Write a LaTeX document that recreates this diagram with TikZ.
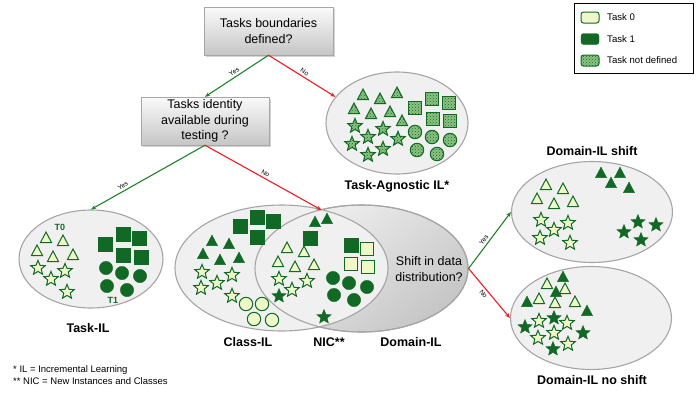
\documentclass[tikz,border=0pt]{standalone}
\usepackage{fontspec}
\setmainfont{Liberation Sans}
\usetikzlibrary{arrows.meta,shapes.geometric,shadows,patterns}
\definecolor{dkg}{RGB}{18,105,38}
\definecolor{lty}{RGB}{238,248,200}
\definecolor{mdg}{RGB}{140,195,130}
\definecolor{argreen}{RGB}{30,130,40}
\definecolor{arred}{RGB}{235,28,36}
\definecolor{ellfill}{RGB}{240,240,240}
\definecolor{elldraw}{RGB}{165,165,165}
\newcommand\Tri[3]{\path[#3,shift={(#1,#2)}] (0,-6) -- (5.6,4.6) -- (-5.6,4.6) -- cycle;}
\newcommand\Sqr[3]{\path[#3,shift={(#1,#2)}] (-6.7,-6.7) rectangle (6.7,6.7);}
\newcommand\Cir[3]{\path[#3] (#1,#2) circle[radius=6.7];}
\newcommand\Sta[3]{\path[#3,shift={(#1,#2)}] (270:7.6) -- (306:3.4) -- (342:7.6) -- (18:3.4) -- (54:7.6) -- (90:3.4) -- (126:7.6) -- (162:3.4) -- (198:7.6) -- (234:3.4) -- cycle;}
\tikzset{
  qbox/.style={draw=gray!70, top color=gray!4, bottom color=gray!45, minimum width=129pt, minimum height=48pt, align=center, inner sep=1pt, drop shadow={shadow xshift=1.5pt, shadow yshift=-1.5pt, opacity=0.35}},
  ell/.style={ellipse, draw=elldraw, line width=1.1pt, fill=ellfill, inner sep=0pt},
  ya/.style={draw=argreen, line width=1.1pt, -{Stealth[length=5pt,width=4pt]}},
  na/.style={draw=arred, line width=1.1pt, -{Stealth[length=5pt,width=4pt]}},
  elab/.style={font=\fontsize{6.5}{7}\selectfont, sloped, inner sep=2pt},
  lbl/.style={font=\bfseries\fontsize{12.5}{14}\selectfont},
  t0s/.style={draw=dkg, fill=lty, line width=1pt},
  t1s/.style={draw=dkg, fill=dkg, line width=0.3pt},
  tus/.style={draw=dkg, line width=1pt, preaction={fill=mdg}, pattern=crosshatch dots, pattern color=dkg}
}
\begin{document}
\begin{tikzpicture}[x=1pt,y=-1pt, font=\fontsize{12.5}{15.5}\selectfont]
\useasboundingbox (0,0) rectangle (699,394);
% question boxes
\node[qbox] (q1) at (268.5,31) {Tasks boundaries\\defined?};
\node[qbox, minimum width=128pt] (q2) at (205,121) {Tasks identity\\available during\\testing ?};
% ellipses
\node[ell, minimum width=142pt, minimum height=102pt] (ta) at (397,123) {};
\node[ell, minimum width=144pt, minimum height=98pt] (til) at (91,259) {};
\node[ellipse, inner sep=0pt, draw=elldraw, line width=1.1pt, minimum width=213pt, minimum height=127pt, top color=gray!10, bottom color=gray!45, shading angle=40] (dil) at (361.5,268.5) {};
\node[ell, minimum width=213pt, minimum height=126pt] (cil) at (281.5,268) {};
\node[ellipse, inner sep=0pt, draw=elldraw, line width=1.1pt, minimum width=213pt, minimum height=127pt] (dilo) at (361.5,268.5) {};
\node[ell, minimum width=161pt, minimum height=101pt] (sh) at (592,212) {};
\node[ell, minimum width=161pt, minimum height=103pt] (ns) at (591,318) {};
\coordinate (nictop) at (321.5,210);
% arrows
\draw[ya] (q1.south) -- node[elab, above]{Yes} (q2.north);
\draw[na] (q1.south) -- node[elab, above]{No} (ta.157);
\draw[ya] (q2.south) -- node[elab, above, pos=0.7]{Yes} (til.north);
\draw[na] (q2.south) -- node[elab, above]{No} (nictop);
\draw[ya] (dil.east) -- node[elab, above, pos=0.45]{Yes} (sh.west);
\draw[na] (dil.east) -- node[elab, below, pos=0.45]{No} (ns.west);
% Task-agnostic shapes
\foreach \x/\y in {363/95, 380/99, 397/93, 354/109, 371/114, 390/112, 402/121} \Tri{\x}{\y}{tus};
\foreach \x/\y in {355/126, 368/137, 383/129, 398/139, 352/144, 368/155, 383/149} \Sta{\x}{\y}{tus};
\foreach \x/\y in {415/108, 432/99, 449/103, 433/119, 450/121} \Sqr{\x}{\y}{tus};
\foreach \x/\y in {415/132, 432/137, 450/140, 417/150, 437/154} \Cir{\x}{\y}{tus};
% Task-IL shapes
\node[font=\bfseries\fontsize{9}{10}\selectfont, text=dkg] (t0l) at (60,227) {T0};
\node[font=\bfseries\fontsize{9}{10}\selectfont, text=dkg] (t1l) at (113,300) {T1};
\foreach \x/\y in {46/238, 63/241, 37/251, 53/257, 73/255} \Tri{\x}{\y}{t0s};
\foreach \x/\y in {38/268, 65/271, 51/279, 67/292} \Sta{\x}{\y}{t0s};
\foreach \x/\y in {105/244, 123/234, 139/238, 123/255, 141/257} \Sqr{\x}{\y}{t1s};
\foreach \x/\y in {106/268, 122/273, 140/276, 107/286, 127/290} \Cir{\x}{\y}{t1s};
% Class-IL shapes
\foreach \x/\y in {240/226, 257/217, 273/221, 257/237} \Sqr{\x}{\y}{t1s};
\foreach \x/\y in {212/241, 229/244, 203/254, 220/260, 239/258} \Tri{\x}{\y}{t1s};
\foreach \x/\y in {202/272, 217/283, 232/275, 201/288, 232/296} \Sta{\x}{\y}{t0s};
\foreach \x/\y in {246/304, 262/304, 254/319, 272/320} \Cir{\x}{\y}{t0s};
% NIC shapes
\foreach \x/\y in {315/222, 327/219} \Tri{\x}{\y}{t1s};
\Sqr{310}{238}{t1s}
\foreach \x/\y in {287/248, 304/252, 278/262, 295/267, 314/265} \Tri{\x}{\y}{t0s};
\foreach \x/\y in {279/279, 292/290, 307/281} \Sta{\x}{\y}{t0s};
\foreach \x/\y in {279/296, 324/317} \Sta{\x}{\y}{t1s};
\Sqr{351}{245}{t1s}
\foreach \x/\y in {367/249, 351/264, 368/267} \Sqr{\x}{\y}{t0s};
\foreach \x/\y in {333/278, 349/283, 367/287, 334/295, 354/300} \Cir{\x}{\y}{t1s};
% Domain-IL shift
\foreach \x/\y in {601/173, 620/173, 611/183, 629/188} \Tri{\x}{\y}{t1s};
\foreach \x/\y in {546/185, 563/189, 537/199, 554/204, 573/202} \Tri{\x}{\y}{t0s};
\foreach \x/\y in {541/220, 554/230, 568/223, 540/238, 570/243} \Sta{\x}{\y}{t0s};
\foreach \x/\y in {638/222, 656/225, 624/232, 641/240} \Sta{\x}{\y}{t1s};
% Domain-IL no shift
\foreach \x/\y in {563/277, 556/292, 527/302, 587/311} \Tri{\x}{\y}{t1s};
\foreach \x/\y in {547/284, 565/289, 539/299, 555/303, 575/302} \Tri{\x}{\y}{t0s};
\foreach \x/\y in {554/318, 525/327, 583/333, 553/349} \Sta{\x}{\y}{t1s};
\foreach \x/\y in {539/321, 567/323, 538/338, 554/333, 568/344} \Sta{\x}{\y}{t0s};
% labels
\node[align=center] (shq) at (429,269) {Shift in data\\distribution?};
\node[lbl] (lta) at (397,186) {Task-Agnostic IL*};
\node[lbl] (ltil) at (88,328) {Task-IL};
\node[lbl] (lcil) at (248,342) {Class-IL};
\node[lbl] (lnic) at (329,342) {NIC**};
\node[lbl] (ldil) at (411,342) {Domain-IL};
\node[lbl] (lsh) at (592,151) {Domain-IL shift};
\node[lbl] (lns) at (592,380) {Domain-IL no shift};
% legend
\node[draw=black, line width=0.8pt, minimum width=119pt, minimum height=70pt, inner sep=0pt] (leg) at (633.5,38) {};
\path[t0s, rounded corners=2.5pt] (581,12) rectangle (599,23);
\path[t1s, rounded corners=2.5pt] (581,33.5) rectangle (599,44.5);
\path[tus, rounded corners=2.5pt] (581,55) rectangle (599,66);
\node[anchor=west, inner sep=0pt, font=\fontsize{9.6}{11}\selectfont] (lg0) at (607,17.5) {Task 0};
\node[anchor=west, inner sep=0pt, font=\fontsize{9.6}{11}\selectfont] (lg1) at (607,39) {Task 1};
\node[anchor=west, inner sep=0pt, font=\fontsize{9.6}{11}\selectfont] (lg2) at (607,60.5) {Task not defined};
% footnotes
\node[anchor=west, inner sep=0pt, align=left, font=\fontsize{9.5}{12}\selectfont] (fn) at (13,375) {* IL = Incremental Learning\\** NIC = New Instances and Classes};
\end{tikzpicture}
\end{document}
